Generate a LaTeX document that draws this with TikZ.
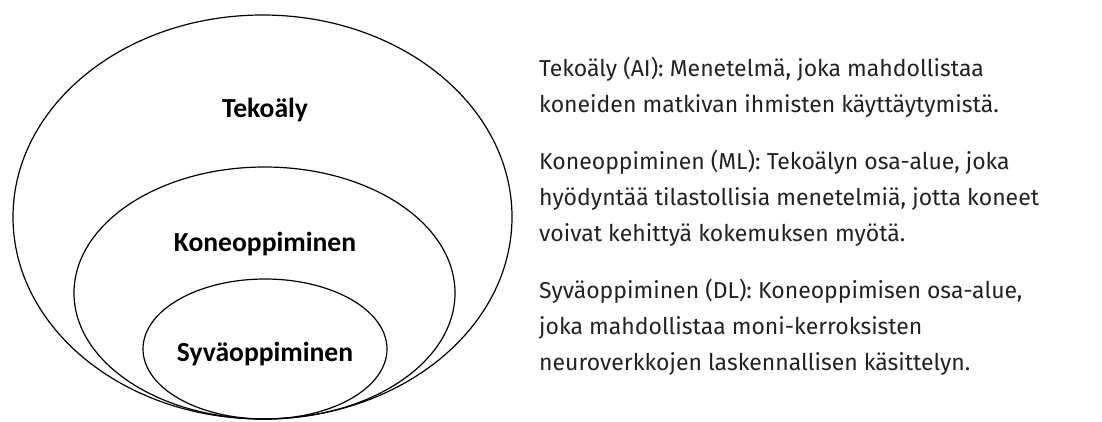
\documentclass[tikz,border=0pt]{standalone}
\usepackage{fontspec}
\setmainfont{Fira Sans}
\newfontfamily\labelfont{Carlito}
\definecolor{desccol}{HTML}{222222}
\begin{document}
\begin{tikzpicture}[x=1pt,y=-1pt,
  ring/.style={draw=black,line width=1.2pt},
  setlabel/.style={font=\labelfont\bfseries\fontsize{27.6}{32}\selectfont,text=black,inner sep=0pt,anchor=base},
  desc/.style={font=\fontsize{23}{36}\selectfont,text=desccol,inner sep=0pt,anchor=base west,align=left}]
\useasboundingbox (0,0) rectangle (1102,421);
% nested sets
\draw[ring] (262.5,217) ellipse [x radius=249.5, y radius=202];
\draw[ring] (264.5,293) ellipse [x radius=190.5, y radius=126];
\draw[ring] (265,349) ellipse [x radius=122, y radius=70];
% labels
\node[setlabel] (ai) at (265,117) {Tekoäly};
\node[setlabel] (ml) at (265,251) {Koneoppiminen};
\node[setlabel] (dl) at (265,361) {Syväoppiminen};
% descriptions (anchored at the baseline of the last line)
\node[desc] (dai) at (539,112.7) {Tekoäly (AI): Menetelmä, joka mahdollistaa\\koneiden matkivan ihmisten käyttäytymistä.};
\node[desc] (dml) at (539,241.7) {Koneoppiminen (ML): Tekoälyn osa-alue, joka\\hyödyntää tilastollisia menetelmiä, jotta koneet\\voivat kehittyä kokemuksen myötä.};
\node[desc] (ddl) at (539,370) {Syväoppiminen (DL): Koneoppimisen osa-alue,\\joka mahdollistaa moni-kerroksisten\\neuroverkkojen laskennallisen käsittelyn.};
\end{tikzpicture}
\end{document}
